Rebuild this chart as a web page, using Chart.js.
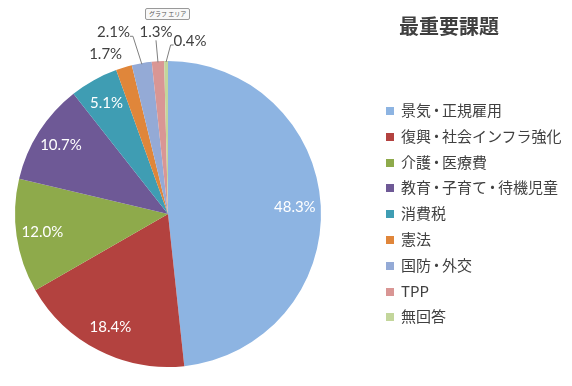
<!DOCTYPE html>
<html>
<head>
<meta charset="utf-8">
<script src="https://cdn.jsdelivr.net/npm/chart.js@4"></script>
<style>
  body { margin: 0; background: #fff; }
  #wrap { position: relative; width: 572px; height: 386px; overflow: hidden; }
  #chart { position: absolute; left: 0; top: 0; }
  #title {
    position: absolute; left: 349px; width: 200px; top: 11px; text-align: center;
    font: bold 20px "Noto Sans CJK JP", sans-serif; color: #404040;
  }
  #legend { position: absolute; left: 386px; top: 99px; margin: 0; padding: 0; list-style: none; }
  #legend li {
    height: 25.8px; line-height: 25.8px; white-space: nowrap;
    font: 15px "Noto Sans CJK JP", sans-serif; color: #404040;
  }
  #legend li span.box {
    display: inline-block; width: 8px; height: 8px; margin-right: 7px; vertical-align: 1px;
  }
  #legend li span.dot { margin: 0 -2px; }
  #tip {
    position: absolute; left: 145px; top: 8px; padding: 0 3px; height: 10px; line-height: 10px;
    font: 6px "Noto Sans CJK JP", sans-serif; color: #555; border: 1px solid #999;
    border-radius: 2px; background: #f8f8f8;
  }
</style>
</head>
<body>
<div id="wrap">
  <canvas id="chart" width="572" height="386"></canvas>
  <div id="title">最重要課題</div>
  <ul id="legend"></ul>
  <div id="tip">グラフ エリア</div>
</div>
<script>
const categories = ['景気・正規雇用', '復興・社会インフラ強化', '介護・医療費', '教育・子育て・待機児童', '消費税', '憲法', '国防・外交', 'TPP', '無回答'];
const shares = [48.3, 18.4, 12.0, 10.7, 5.1, 1.7, 2.1, 1.3, 0.4];
const colors = ['#8DB4E2', '#B3423F', '#8EAA4B', '#6E5996', '#3F9DB3', '#E0863A', '#94AAD6', '#D99694', '#C3D69B'];

// where each small slice puts its label (angle nudge in degrees, radius factor, leader attach side)
const outside = {
    5: { nudge: -4.6, rf: 1.12, attach: null },
    6: { nudge: -6.8, rf: 1.24, attach: 'right' },
    7: { nudge: 0, rf: 1.19, attach: 'bottom' },
    8: { nudge: 8, rf: 1.14, attach: 'left' }
};

const legend = document.getElementById('legend');
categories.forEach((name, i) => {
    const li = document.createElement('li');
    const box = document.createElement('span');
    box.className = 'box';
    box.style.background = colors[i];
    li.appendChild(box);
    // the middle dot is narrower in the original font
    name.split('・').forEach((part, j) => {
        if (j > 0) {
            const dot = document.createElement('span');
            dot.className = 'dot';
            dot.textContent = '・';
            li.appendChild(dot);
        }
        li.appendChild(document.createTextNode(part));
    });
    legend.appendChild(li);
});

const sliceLabels = {
    id: 'sliceLabels',
    afterDatasetsDraw(chart) {
        const ctx = chart.ctx;
        const arcs = chart.getDatasetMeta(0).data;
        ctx.save();
        ctx.font = '15px Lato, "Liberation Sans", sans-serif';
        ctx.textAlign = 'center';
        ctx.textBaseline = 'middle';
        arcs.forEach((arc, i) => {
            const { x, y, startAngle, endAngle, outerRadius } = arc.getProps(['x', 'y', 'startAngle', 'endAngle', 'outerRadius'], true);
            const mid = (startAngle + endAngle) / 2;
            const text = shares[i].toFixed(1) + '%';
            const spec = outside[i];
            if (!spec) {
                const r = outerRadius * 0.83;
                ctx.fillStyle = '#fff';
                ctx.fillText(text, x + Math.cos(mid) * r, y + Math.sin(mid) * r);
                return;
            }
            const a = mid + spec.nudge * Math.PI / 180;
            const lx = x + Math.cos(a) * outerRadius * spec.rf;
            const ly = y + Math.sin(a) * outerRadius * spec.rf;
            const w = ctx.measureText(text).width;
            if (spec.attach) {
                let ex = lx, ey = ly;
                if (spec.attach === 'right') { ex = lx + w / 2 + 3; ey = ly + 4; }
                if (spec.attach === 'left') { ex = lx - w / 2 - 3; ey = ly + 4; }
                if (spec.attach === 'bottom') { ey = ly + 8; }
                ctx.strokeStyle = '#7F7F7F';
                ctx.lineWidth = 1;
                ctx.beginPath();
                ctx.moveTo(x + Math.cos(mid) * (outerRadius - 1), y + Math.sin(mid) * (outerRadius - 1));
                ctx.lineTo(ex, ey);
                if (spec.attach === 'right') ctx.lineTo(ex - 3, ey);
                if (spec.attach === 'left') ctx.lineTo(ex + 3, ey);
                ctx.stroke();
            }
            ctx.fillStyle = '#404040';
            ctx.fillText(text, lx, ly);
        });
        ctx.restore();
    }
};

new Chart(document.getElementById('chart'), {
    type: 'pie',
    data: {
        labels: categories,
        datasets: [{
            data: shares,
            backgroundColor: colors,
            borderWidth: 0
        }]
    },
    options: {
        responsive: false,
        animation: false,
        layout: { padding: { left: 15, top: 61, right: 251, bottom: 19 } },
        plugins: {
            legend: { display: false },
            tooltip: { enabled: false }
        }
    },
    plugins: [sliceLabels]
});
</script>
</body>
</html>
